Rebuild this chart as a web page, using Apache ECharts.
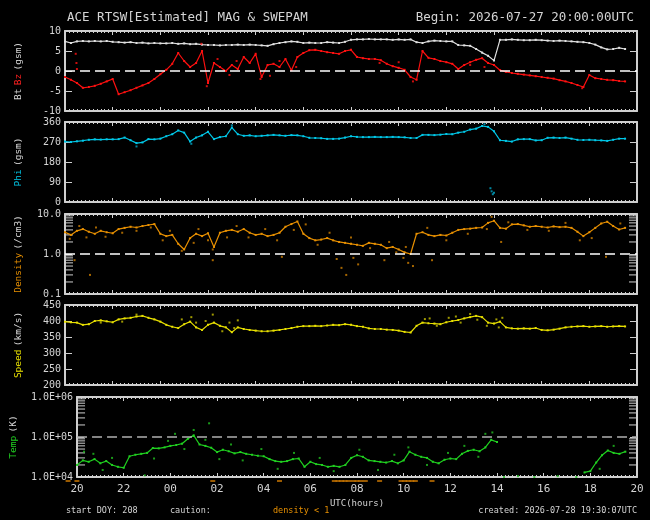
<!DOCTYPE html>
<html>
<head>
<meta charset="utf-8">
<script src="https://cdn.jsdelivr.net/npm/echarts@6/dist/echarts.min.js"></script>
<style>
html, body { margin: 0; background: #000; }
#chart { width: 650px; height: 520px; }
</style>
</head>
<body>
<div id="chart"></div>
<script>
// one sample every 15 minutes, starting 2026-07-27 20:00 UTC (hours since start)
const step = 0.25;

const bt = [7.4,7.0,7.4,7.5,7.4,7.5,7.4,7.5,7.3,7.2,7.1,7.2,7.0,7.1,6.9,7.0,6.9,6.9,7.0,6.8,
  6.9,6.7,6.8,6.6,6.5,6.5,6.4,6.5,6.5,6.6,6.5,6.6,6.5,6.4,6.3,6.7,7.0,7.2,7.4,7.3,
  7.0,7.1,7.0,7.0,7.2,7.1,7.0,7.3,7.8,7.9,7.9,8.0,7.9,7.9,7.9,7.8,7.9,7.8,7.9,7.2,
  7.0,7.4,7.6,7.5,7.4,7.4,6.5,6.4,6.3,5.5,4.6,3.8,2.6,7.8,7.8,7.9,7.8,7.7,7.7,7.8,
  7.7,7.6,7.5,7.6,7.5,7.4,7.3,7.2,7.0,6.6,5.9,5.4,5.5,5.8,5.5];

const bz = [-1.5,-2.2,-3.0,-4.2,-4.0,-3.7,-3.2,-2.6,-2.0,-5.8,-5.3,-4.8,-4.2,-3.6,-3.0,-2.0,-0.8,0.3,1.8,4.5,
  2.5,1.0,2.0,5.0,-3.0,2.0,1.0,0.0,1.5,0.5,3.5,2.0,4.3,-1.5,1.5,1.8,1.0,3.0,0.2,3.5,
  4.5,5.2,5.3,5.0,4.7,4.5,4.3,5.0,5.3,3.5,3.2,3.0,3.0,2.7,1.8,1.2,0.8,0.3,-1.5,-2.2,
  5.0,3.3,3.0,2.5,2.2,1.8,0.5,1.5,2.2,2.8,3.2,2.0,1.5,0.2,-0.2,-0.5,-0.7,-0.9,-1.1,-1.3,
  -1.5,-1.7,-1.9,-2.3,-2.6,-3.0,-3.5,-4.0,-1.0,-1.8,-2.0,-2.2,-2.3,-2.5,-2.6];
const bzScatter = [[0.45,4.3],[0.48,2.0],[0.5,0.5],[5.72,6.8],[5.95,-3.8],[14.6,-2.6],[21.7,-4.3],[8.2,-2.0],
  [6.4,3.0],[6.9,-1.0],[7.2,2.5],[8.6,-1.2],[9.0,2.5],[9.7,1.0],[13.2,2.0],[14.0,2.2],[17.0,1.5],[17.6,1.0]];

const phi = [272,270,273,276,280,282,281,282,282,283,290,278,265,268,283,282,285,296,305,322,
  312,272,290,300,316,283,292,296,335,305,298,300,296,298,300,302,300,298,301,300,
  296,289,288,287,284,284,285,290,296,293,292,292,293,292,292,293,292,291,288,288,
  302,302,301,303,306,305,312,316,326,330,342,338,318,278,275,272,282,283,283,277,
  278,289,290,288,290,285,280,279,280,278,277,275,280,285,285];
const phiScatter = [[17.85,62],[17.9,48],[17.95,35],[18.0,42],[3.0,250],[5.3,262],[7.0,345],[17.6,350]];

const density = [3.5,3.0,3.8,4.2,3.6,3.2,3.8,3.5,3.3,4.2,4.5,4.8,4.6,5.0,5.3,5.6,3.2,2.8,3.0,1.8,
  1.3,2.5,3.2,2.8,3.3,1.5,3.4,3.8,4.0,3.6,4.2,3.4,3.0,3.2,2.8,3.0,3.4,4.8,5.6,6.5,
  3.2,2.5,2.2,2.3,2.5,2.2,2.0,1.9,1.8,1.7,1.6,1.9,1.8,1.7,1.4,1.5,1.3,1.1,1.0,3.2,
  3.5,3.0,2.8,3.0,2.9,3.4,4.0,4.2,4.3,4.5,4.6,6.0,6.8,4.5,4.3,5.5,5.6,5.2,4.8,5.0,
  4.8,4.6,4.9,4.7,4.8,4.5,3.6,2.8,3.5,4.5,5.8,6.4,5.0,4.1,4.5];
const densityScatter = [[0.4,0.7],[1.05,0.3],[6.2,0.7],[9.1,0.85],[11.4,0.75],[11.6,0.45],[11.8,0.3],
  [12.1,0.8],[12.3,0.55],[13.4,0.7],[14.2,0.8],[14.4,0.6],[14.6,0.5],[15.4,0.7],[22.7,0.85],
  [4.9,1.2],[6.2,1.3],[13.9,1.1],[17.9,8.5],
  [0.2,2.4],[0.6,5.0],[0.9,2.6],[1.3,4.6],[1.7,2.7],[2.4,3.4],[3.0,3.8],[3.6,4.6],[4.1,2.2],[4.4,3.8],
  [5.4,1.9],[5.6,4.2],[6.0,2.2],[6.8,2.6],[7.2,5.0],[7.7,2.6],[8.4,4.2],[8.9,2.2],[9.6,4.0],[10.1,5.5],
  [10.6,1.7],[11.1,3.4],[12.0,2.6],[12.8,1.4],[13.6,2.0],[14.3,1.5],[15.2,4.5],[16.0,2.2],[16.9,3.2],
  [17.7,4.2],[18.3,2.0],[18.6,6.2],[19.4,4.0],[20.3,3.8],[21.0,6.0],[21.6,2.2],[22.1,2.5],[23.3,5.8]];

const speed = [398,396,395,388,390,400,402,399,396,405,408,410,414,416,410,405,398,388,382,378,
  390,398,380,372,388,395,385,380,365,380,375,372,370,368,368,370,372,375,378,382,
  384,384,385,384,386,388,387,390,388,384,382,377,375,375,373,372,370,366,364,385,
  395,393,392,390,396,400,403,408,412,416,412,395,392,398,380,377,376,377,376,378,
  372,371,373,376,380,382,383,384,382,383,384,382,383,384,383];
const speedScatter = [[5.3,412],[6.2,420],[7.25,402],[15.1,406],[16.4,414],[17.0,422],[18.1,405],[3.0,420],
  [4.9,405],[5.5,395],[5.9,400],[6.6,368],[6.9,395],[7.1,378],[15.3,408],[15.6,385],[16.1,410],
  [16.6,395],[17.3,404],[17.7,385],[18.2,380],[18.35,410],[1.5,395],[2.4,398]];

const temp = [2.0e4,2.6e4,2.4e4,2.8e4,2.2e4,2.5e4,2.0e4,1.8e4,1.7e4,3.3e4,3.6e4,3.8e4,4.0e4,5.3e4,5.2e4,5.5e4,6.0e4,6.3e4,6.8e4,9.0e4,
  1.1e5,6.5e4,6.0e4,5.4e4,4.2e4,4.8e4,4.4e4,3.9e4,4.2e4,3.8e4,3.6e4,3.4e4,3.3e4,2.8e4,2.5e4,2.4e4,2.5e4,2.8e4,2.9e4,1.8e4,
  2.4e4,2.1e4,2.0e4,1.8e4,1.9e4,1.8e4,2.0e4,3.0e4,3.5e4,3.2e4,2.6e4,2.5e4,2.4e4,2.3e4,2.5e4,2.2e4,2.6e4,4.3e4,3.6e4,3.2e4,
  3.0e4,2.4e4,2.2e4,2.7e4,2.9e4,2.8e4,3.8e4,4.5e4,4.8e4,4.4e4,5.5e4,8.5e4,7.5e4,null,null,null,null,null,null,null,
  null,null,null,null,null,null,null,1.3e4,1.4e4,2.3e4,3.5e4,4.6e4,4.0e4,3.8e4,4.3e4];
const tempScatter = [[18.3,1.0e4],[18.9,1.05e4],[19.6,1.0e4],[20.6,1.05e4],[21.4,1.0e4],[5.66,2.2e5],
  [5.0,1.5e5],[17.8,1.3e5],[0.3,4.3e4],[2.9,1.1e4],[4.2,1.2e5],[17.5,1.2e5],
  [0.7,3.8e4],[1.1,1.5e4],[1.5,3.0e4],[3.3,2.9e4],[3.9,8.0e4],[4.6,5.0e4],[5.5,8.5e4],[6.1,2.8e4],
  [6.6,6.5e4],[7.1,2.6e4],[7.9,5.0e4],[8.6,1.6e4],[9.3,4.0e4],[10.4,3.0e4],[11.0,1.4e4],[12.1,4.8e4],
  [12.9,1.5e4],[13.6,3.6e4],[14.2,5.5e4],[15.0,2.0e4],[15.9,4.0e4],[16.6,6.0e4],[17.2,3.2e4],
  [22.4,1.6e4],[23.0,6.0e4]];

// hours where density < 1 (caution marks under the bottom panel)
const cautionHours = [0.13,0.5,6.2,9.0,11.3,11.45,11.6,11.75,11.9,12.1,12.25,12.4,12.6,13.2,14.1,14.25,14.4,14.55,14.7,15.4];

const densityMinor = [0.2,0.3,0.4,0.5,0.6,0.7,0.8,0.9,2,3,4,5,6,7,8,9];
const tempMinor = [2e4,3e4,4e4,5e4,6e4,7e4,8e4,9e4,2e5,3e5,4e5,5e5,6e5,7e5,8e5,9e5];

const hours = bt.map((_, i) => i * step);
const pair = arr => arr.map((v, i) => [hours[i], v]);

const mono = 'DejaVu Sans Mono';
const frame = '#cfcfcf';
const txt = '#d4d4d4';
const tops = [31, 122, 214, 305, 397];

const grids = tops.map(t => ({ left: 65, right: 13, top: t, height: 80 }));
grids.push({ left: 65, right: 13, top: 479, height: 4 });

const xAxes = [];
tops.forEach((t, i) => {
  ['bottom', 'top'].forEach(pos => {
    const labelled = i === 4 && pos === 'bottom';
    xAxes.push({
      type: 'value', gridIndex: i, position: pos, min: 0, max: 24, interval: 2,
      axisLine: { show: true, onZero: false, lineStyle: { color: frame, width: 2 } },
      axisTick: { show: true, inside: true, length: 4, lineStyle: { color: frame } },
      minorTick: { show: true, splitNumber: 12, length: 2, lineStyle: { color: frame } },
      splitLine: { show: false },
      axisLabel: {
        show: labelled, color: txt, fontFamily: mono, fontSize: 11, margin: 7,
        formatter: v => String((20 + v) % 24).padStart(2, '0')
      },
      name: labelled ? 'UTC(hours)' : '',
      nameLocation: 'middle', nameGap: 22,
      nameTextStyle: { color: txt, fontFamily: mono, fontSize: 9 }
    });
  });
});
xAxes.push({ type: 'value', gridIndex: 5, min: 0, max: 24, show: false });

const rich = {
  w: { color: txt, fontFamily: mono, fontSize: 9.5 },
  r: { color: '#ff2020', fontFamily: mono, fontSize: 9.5 },
  c: { color: '#00c8e8', fontFamily: mono, fontSize: 9.5 },
  o: { color: '#e89000', fontFamily: mono, fontSize: 9.5 },
  y: { color: '#e8e000', fontFamily: mono, fontSize: 9.5 },
  g: { color: '#20d020', fontFamily: mono, fontSize: 9.5 }
};
const yDefs = [
  { type: 'value', min: -10, max: 10, interval: 5, name: '{w|Bt} {r|Bz} {w|(gsm)}' },
  { type: 'value', min: 0, max: 360, interval: 90, name: '{c|Phi} {w|(gsm)}' },
  { type: 'log', min: 0.1, max: 10, fmt: v => v.toFixed(1), name: '{o|Density} {w|(/cm3)}' },
  { type: 'value', min: 200, max: 450, interval: 50, name: '{y|Speed} {w|(km/s)}' },
  { type: 'log', min: 1e4, max: 1e6, fmt: v => '1.0E+' + String(Math.round(Math.log10(v))).padStart(2, '0'), name: '{g|Temp} {w|(K)}' }
];
const yAxes = [];
yDefs.forEach((d, i) => {
  ['left', 'right'].forEach(pos => {
    const ax = {
      type: d.type, gridIndex: i, position: pos, min: d.min, max: d.max,
      axisLine: { show: true, onZero: false, lineStyle: { color: frame, width: 2 } },
      axisTick: { show: true, inside: true, length: 7, lineStyle: { color: frame } },
      splitLine: { show: false },
      axisLabel: {
        show: pos === 'left', color: txt, fontFamily: mono, fontSize: 10, margin: 4,
        formatter: d.fmt || (v => String(v))
      }
    };
    if (d.interval) ax.interval = d.interval;
    if (d.type === 'log') ax.logBase = 10;
    if (pos === 'left') {
      ax.name = d.name;
      ax.nameLocation = 'middle';
      ax.nameRotate = 90;
      ax.nameGap = 40;
      ax.nameTextStyle = { rich };
    }
    yAxes.push(ax);
  });
});
yAxes.push({ type: 'value', gridIndex: 5, min: 0, max: 1, show: false });

function trace(data, color, i, extra) {
  return Object.assign({
    type: 'line', data, xAxisIndex: 2 * i, yAxisIndex: 2 * i,
    symbol: 'rect', symbolSize: 2, showSymbol: true, showAllSymbol: true,
    connectNulls: false, lineStyle: { color, width: 1.2 }, itemStyle: { color },
    silent: true, animation: false, z: 3
  }, extra || {});
}
function dots(data, color, i) {
  return {
    type: 'scatter', data, xAxisIndex: 2 * i, yAxisIndex: 2 * i,
    symbol: 'rect', symbolSize: 2, itemStyle: { color }, silent: true, animation: false, z: 3
  };
}
function dashed(value, color) {
  return {
    silent: true, symbol: 'none', animation: false, label: { show: false },
    lineStyle: { color, width: 1.5, type: [10, 5] },
    data: [{ yAxis: value }]
  };
}
function logMinor(values, i) {
  return {
    type: 'custom', xAxisIndex: 2 * i, yAxisIndex: 2 * i, silent: true, clip: false, animation: false,
    data: values.map(v => [0, v]),
    renderItem: (params, api) => {
      const l = api.coord([0, api.value(1)]);
      const r = api.coord([24, api.value(1)]);
      return {
        type: 'group', children: [
          { type: 'line', shape: { x1: l[0], y1: l[1], x2: l[0] + 8, y2: l[1] }, style: { stroke: frame, lineWidth: 1 } },
          { type: 'line', shape: { x1: r[0] - 8, y1: r[1], x2: r[0], y2: r[1] }, style: { stroke: frame, lineWidth: 1 } }
        ]
      };
    }
  };
}

const series = [
  trace(pair(bt), '#e0e0e0', 0),
  trace(pair(bz), '#ff1010', 0, { markLine: dashed(0, '#ffffff') }),
  dots(bzScatter, '#ff1010', 0),
  trace(pair(phi), '#00c8e8', 1),
  dots(phiScatter, '#00a8c8', 1),
  trace(pair(density), '#e89000', 2, { markLine: dashed(1, '#ffffff') }),
  dots(densityScatter, '#d08000', 2),
  logMinor(densityMinor, 2),
  trace(pair(speed), '#e8e000', 3),
  dots(speedScatter, '#c8c000', 3),
  trace(pair(temp), '#20d020', 4, { markLine: dashed(1e5, '#b0b0b0') }),
  dots(tempScatter, '#20c020', 4),
  logMinor(tempMinor, 4),
  {
    type: 'scatter', xAxisIndex: 10, yAxisIndex: 10, silent: true, animation: false,
    data: cautionHours.map(h => [h, 0.5]), symbol: 'rect', symbolSize: [5, 2],
    itemStyle: { color: '#c07000' }
  }
];

const small = { color: txt, fontFamily: mono, fontSize: 8.5, fontWeight: 'normal' };
const option = {
  backgroundColor: '#000',
  animation: false,
  title: [
    { text: 'ACE RTSW[Estimated] MAG & SWEPAM', left: 67, top: 11, padding: 0,
      textStyle: { color: txt, fontFamily: mono, fontSize: 12.5, fontWeight: 'normal' } },
    { text: 'Begin: 2026-07-27 20:00:00UTC', right: 16, top: 11, padding: 0,
      textStyle: { color: txt, fontFamily: mono, fontSize: 12.5, fontWeight: 'normal' } },
    { text: 'start DOY: 208', left: 66, top: 506, padding: 0, textStyle: small },
    { text: 'caution:', left: 170, top: 506, padding: 0, textStyle: small },
    { text: 'density < 1', left: 273, top: 506, padding: 0, textStyle: Object.assign({}, small, { color: '#e89000' }) },
    { text: 'created: 2026-07-28 19:30:07UTC', right: 13, top: 506, padding: 0, textStyle: small }
  ],
  grid: grids,
  xAxis: xAxes,
  yAxis: yAxes,
  series
};

const chart = echarts.init(document.getElementById('chart'), null, { renderer: 'canvas' });
chart.setOption(option);
</script>
</body>
</html>
